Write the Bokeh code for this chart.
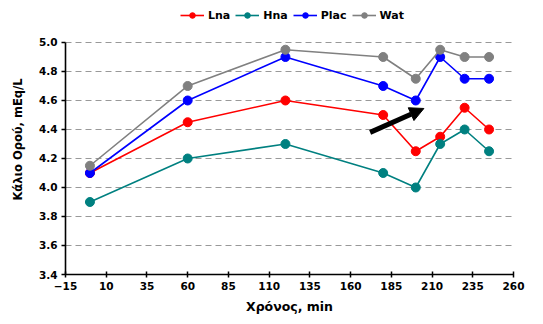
from bokeh.plotting import figure
from bokeh.models import (Legend, LegendItem, Arrow, NormalHead, FixedTicker,
                          Range1d, PrintfTickFormatter)
from bokeh.embed import file_html
from bokeh.resources import INLINE

# Data
time_min = [0, 60, 120, 180, 200, 215, 230, 245]
lna = [4.10, 4.45, 4.60, 4.50, 4.25, 4.35, 4.55, 4.40]
hna = [3.90, 4.20, 4.30, 4.10, 4.00, 4.30, 4.40, 4.25]
plac = [4.10, 4.60, 4.90, 4.70, 4.60, 4.90, 4.75, 4.75]
wat = [4.15, 4.70, 4.95, 4.90, 4.75, 4.95, 4.90, 4.90]

series_names = ["Lna", "Hna", "Plac", "Wat"]
series_colors = ["#FF0000", "#008080", "#0000FF", "#808080"]

x_ticks = [-15, 10, 35, 60, 85, 110, 135, 160, 185, 210, 235, 260]
y_ticks = [3.4, 3.6, 3.8, 4.0, 4.2, 4.4, 4.6, 4.8, 5.0]
y_axis_min, y_axis_max = 3.4, 5.0
# extra headroom above the axis top so the legend fits inside the frame
y_view_max = 5.262

# annotation arrow (data coords)
arrow_start = (172, 4.38)
arrow_end = (205, 4.545)

FONT = "DejaVu Sans"

p = figure(width=535, height=316, output_backend="svg", toolbar_location=None,
           x_range=Range1d(-15, 260), y_range=Range1d(y_axis_min, y_view_max),
           min_border_left=65, min_border_right=22, min_border_top=4,
           min_border_bottom=42)
p.outline_line_color = None
p.background_fill_color = "white"

items = []
for name, vals, col in zip(series_names, [lna, hna, plac, wat], series_colors):
    r1 = p.line(time_min, vals, line_color=col, line_width=1.6)
    r2 = p.scatter(time_min, vals, size=9, fill_color=col, line_color=col)
    items.append(LegendItem(label=name, renderers=[r1, r2]))

p.add_layout(Arrow(end=NormalHead(size=14, fill_color="black", line_color="black"),
                   x_start=arrow_start[0], y_start=arrow_start[1],
                   x_end=arrow_end[0], y_end=arrow_end[1],
                   line_width=5, line_color="black"))

legend = Legend(items=items, orientation="horizontal", location=(115, 252),
                glyph_width=24, glyph_height=14, label_height=14,
                label_standoff=4, spacing=5, padding=0, margin=0,
                border_line_color=None, background_fill_alpha=0,
                label_text_font=FONT, label_text_font_style="bold",
                label_text_font_size="11px", label_text_color="black")
p.add_layout(legend, "center")

p.xgrid.grid_line_color = None
p.ygrid.grid_line_color = "#999999"
p.ygrid.grid_line_dash = "6 4"
p.ygrid.grid_line_width = 1

p.xaxis.ticker = FixedTicker(ticks=x_ticks)
p.yaxis.ticker = FixedTicker(ticks=y_ticks)
p.yaxis.bounds = (y_axis_min, y_axis_max)
p.yaxis.formatter = PrintfTickFormatter(format="%.1f")
p.xaxis.minor_tick_line_color = None
p.yaxis.minor_tick_line_color = None

for ax in (p.xaxis, p.yaxis):
    ax.axis_line_color = "black"
    ax.axis_line_width = 1.6
    ax.major_tick_line_color = "black"
    ax.major_tick_line_width = 1.5
    ax.major_label_text_font = FONT
    ax.major_label_text_font_style = "bold"
    ax.major_label_text_font_size = "10.5px"
    ax.major_label_text_color = "black"
    ax.axis_label_text_font = FONT
    ax.axis_label_text_font_style = "bold"
    ax.axis_label_text_color = "black"

p.xaxis.major_tick_in = 3
p.xaxis.major_tick_out = 3
p.yaxis.major_tick_in = 0
p.yaxis.major_tick_out = 4
p.xaxis.major_label_standoff = 4
p.yaxis.major_label_standoff = 4

p.xaxis.axis_label = "Χρόνος, min"
p.xaxis.axis_label_text_font_size = "12.5px"
p.xaxis.axis_label_standoff = 6
p.yaxis.axis_label = "Κάλιο Ορού, mEq/L"
p.yaxis.axis_label_text_font_size = "11.5px"
p.yaxis.axis_label_standoff = 11

open("out.html", "w").write(file_html(p, INLINE))
